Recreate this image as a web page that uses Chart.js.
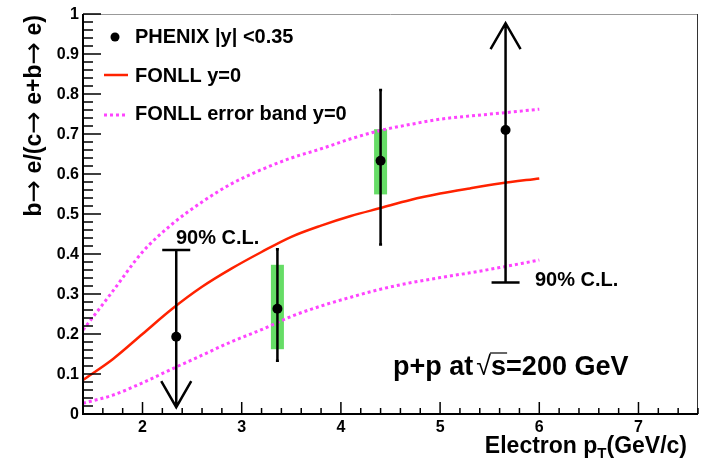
<!DOCTYPE html>
<html>
<head>
<meta charset="utf-8">
<script src="https://cdn.jsdelivr.net/npm/chart.js@4.4.0/dist/chart.umd.min.js"></script>
<style>
  body { margin: 0; background: #fff; }
  #plot { display: block; }
</style>
</head>
<body>
<canvas id="plot" width="707" height="460"></canvas>
<script>
// FONLL curves, sampled on a common pT grid
const curveX       = [1.4, 1.7, 2.0, 2.3, 2.6, 2.9, 3.2, 3.5, 3.8, 4.1, 4.4, 4.7, 5.0, 5.3, 5.6, 6.0];
const fonllCentral = [0.085, 0.137, 0.200, 0.263, 0.318, 0.364, 0.405, 0.443, 0.471, 0.495, 0.515, 0.535, 0.551, 0.564, 0.576, 0.589];
const fonllUpper   = [0.210, 0.307, 0.405, 0.475, 0.530, 0.576, 0.611, 0.640, 0.663, 0.688, 0.709, 0.724, 0.737, 0.745, 0.752, 0.762];
const fonllLower   = [0.027, 0.047, 0.078, 0.113, 0.147, 0.181, 0.211, 0.244, 0.270, 0.292, 0.312, 0.328, 0.341, 0.353, 0.366, 0.385];

// PHENIX points
const phenixX  = [2.34, 3.36, 4.40, 5.66];
const phenixY  = [0.193, 0.263, 0.633, 0.710];
const statLow  = [null, 0.133, 0.424, null];
const statHigh = [null, 0.412, 0.810, null];
const sysLow   = [null, 0.162, 0.549, null];
const sysHigh  = [null, 0.373, 0.712, null];

// 90% C.L. limits: position, limit value, where the arrow ends
const limitX     = [2.34, 5.66];
const limitValue = [0.410, 0.329];
const limitEnd   = [0.017, 0.977];

const xTicks = [2, 3, 4, 5, 6, 7];
const yTicks = [0, 0.1, 0.2, 0.3, 0.4, 0.5, 0.6, 0.7, 0.8, 0.9, 1];
const yTickLabels = ['0', '0.1', '0.2', '0.3', '0.4', '0.5', '0.6', '0.7', '0.8', '0.9', '1'];

const FONT = '"Liberation Sans", Arial, Helvetica, sans-serif';
const ARROW_FONT = '"DejaVu Sans", sans-serif';
const RED = '#ff2200';
const MAGENTA = '#ff44ff';
const GREEN = '#66dd66';

function pairs(xs, ys) {
  return xs.map((x, i) => ({ x: x, y: ys[i] }));
}

// draws a run of [text, font] pieces, returns total width
function drawRun(ctx, pieces, x, y, measureOnly) {
  let w = 0;
  pieces.forEach(p => {
    ctx.font = p[1];
    if (!measureOnly) ctx.fillText(p[0], x + w, y);
    w += ctx.measureText(p[0]).width;
  });
  return w;
}

const rootStyle = {
  id: 'rootStyle',
  beforeDatasetsDraw(chart) {
    const ctx = chart.ctx;
    const xs = chart.scales.x, ys = chart.scales.y;
    // systematic boxes sit behind everything
    ctx.save();
    ctx.fillStyle = GREEN;
    phenixX.forEach((x, i) => {
      if (sysLow[i] == null) return;
      const px = xs.getPixelForValue(x);
      const top = ys.getPixelForValue(sysHigh[i]);
      const bot = ys.getPixelForValue(sysLow[i]);
      ctx.fillRect(px - 6.5, top, 13, bot - top);
    });
    ctx.restore();
  },
  afterDatasetsDraw(chart) {
    const ctx = chart.ctx;
    const area = chart.chartArea;
    const xs = chart.scales.x, ys = chart.scales.y;

    ctx.save();
    ctx.strokeStyle = '#000';
    ctx.lineWidth = 2.5;
    ctx.lineCap = 'butt';

    // statistical error bars
    phenixX.forEach((x, i) => {
      if (statLow[i] == null) return;
      const px = xs.getPixelForValue(x);
      const top = ys.getPixelForValue(statHigh[i]);
      const bot = ys.getPixelForValue(statLow[i]);
      ctx.beginPath();
      ctx.moveTo(px, top); ctx.lineTo(px, bot);
      ctx.moveTo(px - 1.5, top); ctx.lineTo(px + 1.5, top);
      ctx.moveTo(px - 1.5, bot); ctx.lineTo(px + 1.5, bot);
      ctx.stroke();
    });

    // limits with arrows
    limitX.forEach((x, i) => {
      const px = xs.getPixelForValue(x);
      const pl = ys.getPixelForValue(limitValue[i]);
      const pe = ys.getPixelForValue(limitEnd[i]);
      const dir = pe > pl ? -1 : 1;
      ctx.beginPath();
      ctx.moveTo(px - 14, pl); ctx.lineTo(px + 14, pl);
      ctx.moveTo(px, pl); ctx.lineTo(px, pe);
      ctx.moveTo(px - 15, pe + dir * 26); ctx.lineTo(px, pe); ctx.lineTo(px + 15, pe + dir * 26);
      ctx.stroke();
    });

    // frame
    ctx.lineWidth = 1;
    ctx.strokeStyle = '#999';
    ctx.beginPath();
    ctx.moveTo(area.left, area.top + 0.5); ctx.lineTo(area.right, area.top + 0.5);
    ctx.stroke();
    ctx.strokeStyle = '#333';
    ctx.beginPath();
    ctx.moveTo(area.right - 0.5, area.top); ctx.lineTo(area.right - 0.5, area.bottom);
    ctx.stroke();

    ctx.strokeStyle = '#000';
    ctx.lineWidth = 2;
    ctx.beginPath();
    ctx.moveTo(area.left, area.top); ctx.lineTo(area.left, area.bottom);
    ctx.lineTo(area.right, area.bottom);
    ctx.stroke();

    // inward ticks
    ctx.lineWidth = 1.5;
    ctx.beginPath();
    for (let k = 0; k <= 50; k++) {
      const py = ys.getPixelForValue(k * 0.02);
      const len = k % 5 === 0 ? 18 : 10;
      ctx.moveTo(area.left, py); ctx.lineTo(area.left + len, py);
    }
    for (let k = 8; k <= 38; k++) {
      const px = xs.getPixelForValue(k * 0.2);
      const len = k % 5 === 0 ? 12 : 6;
      ctx.moveTo(px, area.bottom); ctx.lineTo(px, area.bottom - len);
    }
    ctx.stroke();

    // tick labels
    ctx.fillStyle = '#000';
    ctx.font = 'bold 16px ' + FONT;
    ctx.textAlign = 'right';
    ctx.textBaseline = 'middle';
    yTicks.forEach((v, i) => {
      ctx.fillText(yTickLabels[i], area.left - 4, ys.getPixelForValue(v) + 1);
    });
    ctx.textAlign = 'center';
    ctx.textBaseline = 'top';
    xTicks.forEach(v => {
      ctx.fillText(String(v), xs.getPixelForValue(v), area.bottom + 6);
    });

    // y title, arrows taken from DejaVu
    const tb = 'bold 23px ' + FONT, ta = '27px ' + ARROW_FONT;
    const yTitle = [['b', tb], ['\u2192', ta], [' e/(c', tb], ['\u2192', ta], [' e+b', tb], ['\u2192', ta], [' e)', tb]];
    ctx.save();
    ctx.translate(35, area.top + 1);
    ctx.rotate(-Math.PI / 2);
    ctx.textAlign = 'left';
    ctx.textBaseline = 'middle';
    const ytw = drawRun(ctx, yTitle, 0, 0, true);
    drawRun(ctx, yTitle, -ytw, 0, false);
    ctx.restore();

    // x title with subscript T
    ctx.textAlign = 'left';
    ctx.textBaseline = 'alphabetic';
    const big = 'bold 23px ' + FONT, small = 'bold 15px ' + FONT;
    ctx.font = big;
    const w1 = ctx.measureText('Electron p').width;
    const w3 = ctx.measureText('(GeV/c)').width;
    ctx.font = small;
    const w2 = ctx.measureText('T').width;
    let tx = 687 - (w1 + w2 + w3);
    const base = 453;
    ctx.font = big; ctx.fillText('Electron p', tx, base); tx += w1;
    ctx.font = small; ctx.fillText('T', tx, base + 5); tx += w2;
    ctx.font = big; ctx.fillText('(GeV/c)', tx, base);

    // legend
    ctx.font = 'bold 20px ' + FONT;
    ctx.textBaseline = 'middle';
    ctx.beginPath();
    ctx.arc(115, 37, 4.5, 0, Math.PI * 2);
    ctx.fill();
    ctx.fillText('PHENIX |y| <0.35', 135, 37);
    ctx.strokeStyle = RED;
    ctx.lineWidth = 2.5;
    ctx.beginPath(); ctx.moveTo(104, 75); ctx.lineTo(128, 75); ctx.stroke();
    ctx.fillText('FONLL y=0', 135, 76);
    ctx.strokeStyle = MAGENTA;
    ctx.lineWidth = 3;
    ctx.setLineDash([3, 3]);
    ctx.beginPath(); ctx.moveTo(104, 115); ctx.lineTo(128, 115); ctx.stroke();
    ctx.setLineDash([]);
    ctx.fillText('FONLL error band y=0', 135, 114);

    // limit labels
    ctx.textBaseline = 'alphabetic';
    ctx.fillText('90% C.L.', 176, 244);
    ctx.fillText('90% C.L.', 535, 286);

    // collision label with sqrt
    const sf = 'bold 27px ' + FONT;
    let sx = 393;
    const sb = 375;
    ctx.font = sf;
    ctx.fillText('p+p at', sx, sb);
    sx += ctx.measureText('p+p at').width + 3;
    ctx.font = '27px ' + FONT;
    ctx.fillText('\u221a', sx, sb);
    sx += ctx.measureText('\u221a').width;
    ctx.font = sf;
    const sw = ctx.measureText('s').width;
    ctx.lineWidth = 1.2;
    ctx.strokeStyle = '#000';
    ctx.beginPath(); ctx.moveTo(sx - 1, sb - 22); ctx.lineTo(sx + sw + 1, sb - 22); ctx.stroke();
    ctx.fillText('s=200 GeV', sx, sb);

    ctx.restore();
  }
};

new Chart(document.getElementById('plot'), {
  type: 'scatter',
  data: {
    datasets: [
      {
        label: 'PHENIX |y| <0.35',
        data: pairs(phenixX, phenixY),
        backgroundColor: '#000',
        borderColor: '#000',
        pointRadius: 5,
        pointBorderWidth: 0
      },
      {
        label: 'FONLL y=0',
        data: pairs(curveX, fonllCentral),
        showLine: true,
        borderColor: RED,
        borderWidth: 2.5,
        pointRadius: 0,
        cubicInterpolationMode: 'monotone'
      },
      {
        label: 'FONLL error band y=0',
        data: pairs(curveX, fonllUpper),
        showLine: true,
        borderColor: MAGENTA,
        borderWidth: 3,
        borderDash: [3, 3],
        pointRadius: 0,
        cubicInterpolationMode: 'monotone'
      },
      {
        label: 'FONLL error band low',
        data: pairs(curveX, fonllLower),
        showLine: true,
        borderColor: MAGENTA,
        borderWidth: 3,
        borderDash: [3, 3],
        pointRadius: 0,
        cubicInterpolationMode: 'monotone'
      }
    ]
  },
  options: {
    responsive: false,
    animation: false,
    events: [],
    layout: { padding: { left: 83, right: 9, top: 14, bottom: 46 } },
    plugins: { legend: { display: false }, tooltip: { enabled: false } },
    scales: {
      x: { type: 'linear', min: 1.4, max: 7.6, display: false },
      y: { type: 'linear', min: 0, max: 1, display: false }
    }
  },
  plugins: [rootStyle]
});
</script>
</body>
</html>
